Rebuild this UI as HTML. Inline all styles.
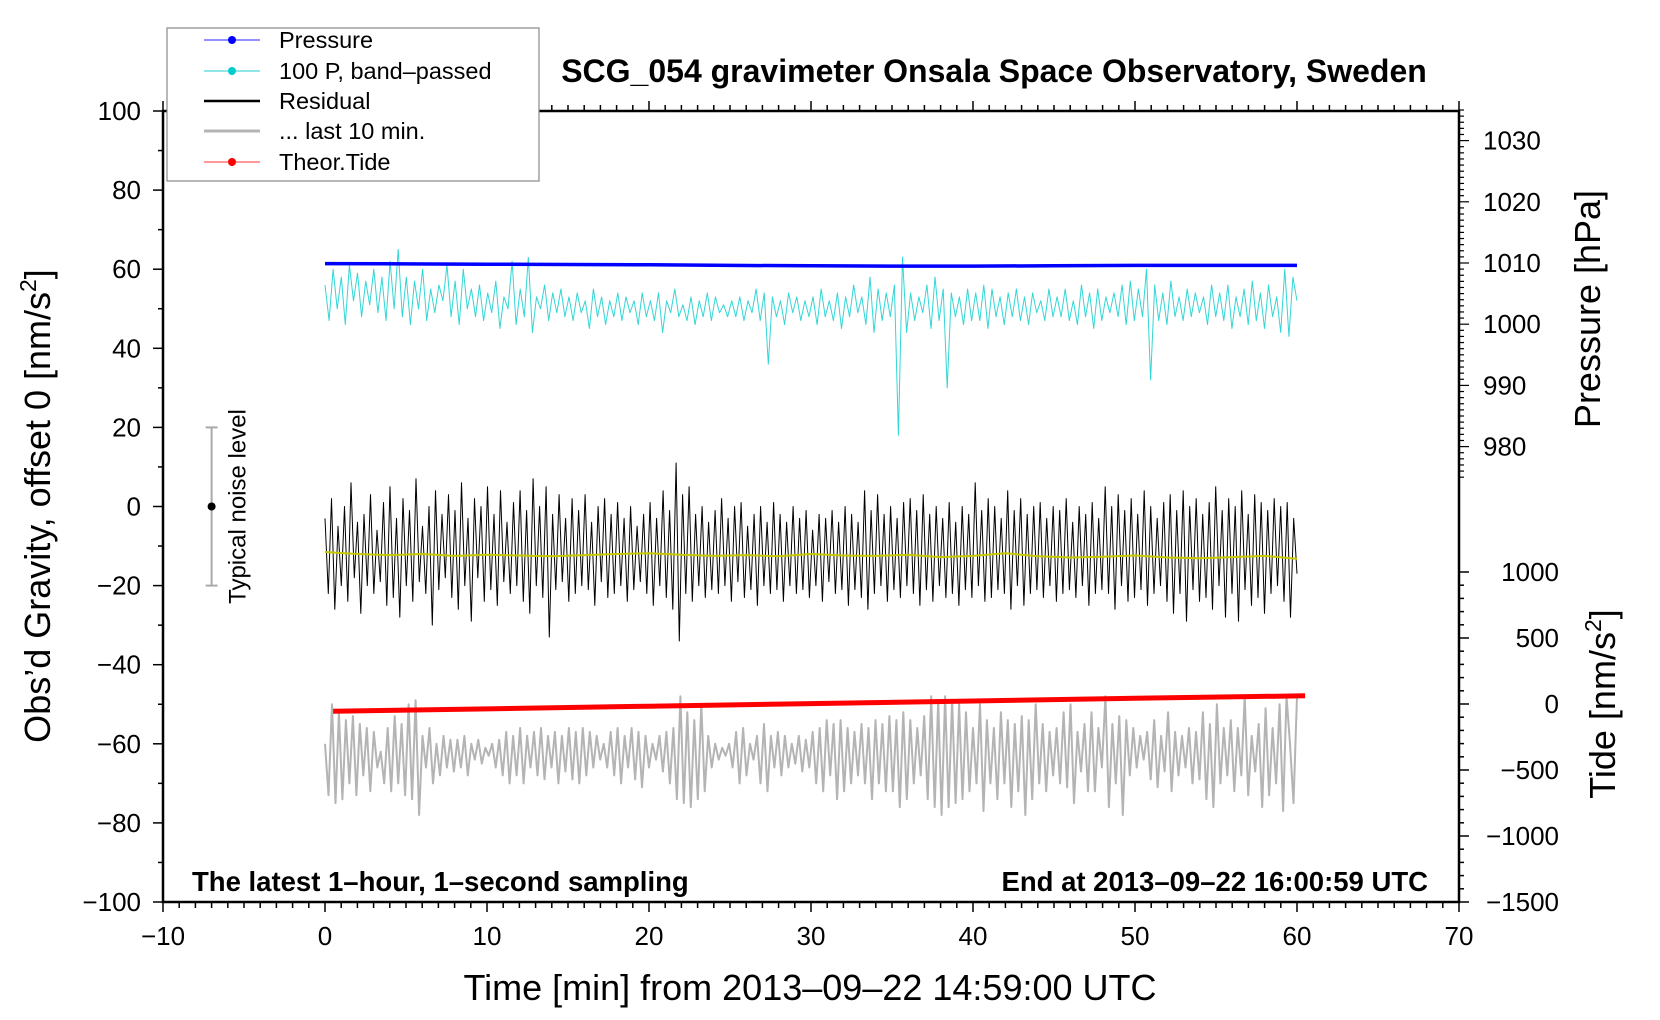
<!DOCTYPE html>
<html><head><meta charset="utf-8">
<style>
html,body{margin:0;padding:0;background:#fff;}
svg{display:block;font-family:"Liberation Sans",Helvetica,Arial,sans-serif;}
</style></head>
<body>
<svg id="chart" width="1660" height="1020" viewBox="0 0 1660 1020">
<g id="marks"></g>
<g id="axes"></g>
<text x="994" y="82" text-anchor="middle" font-size="32" font-weight="bold">SCG_054 gravimeter Onsala Space Observatory, Sweden</text>
<text x="192" y="891" font-size="27.5" font-weight="bold">The latest 1–hour, 1–second sampling</text>
<text x="1428" y="891" text-anchor="end" font-size="27.5" font-weight="bold">End at 2013–09–22 16:00:59 UTC</text>
<text x="810" y="1000" text-anchor="middle" font-size="36">Time [min] from 2013–09–22 14:59:00 UTC</text>
<text transform="translate(50,506) rotate(-90)" text-anchor="middle" font-size="36">Obs’d Gravity, offset 0 [nm/s<tspan dy="-14" font-size="23">2</tspan><tspan dy="14">]</tspan></text>
<text transform="translate(1600,309) rotate(-90)" text-anchor="middle" font-size="36">Pressure [hPa]</text>
<text transform="translate(1615,704) rotate(-90)" text-anchor="middle" font-size="36">Tide [nm/s<tspan dy="-14" font-size="23">2</tspan><tspan dy="14">]</tspan></text>
<g>
<rect x="167" y="28" width="372" height="153" fill="#fff" stroke="#888" stroke-width="1.2"/>
<line x1="204" y1="40" x2="260" y2="40" stroke="#2222ff" stroke-width="1"/><circle cx="232" cy="40" r="4" fill="#0000ff"/>
<text x="279" y="48" font-size="23.5">Pressure</text>
<line x1="204" y1="71" x2="260" y2="71" stroke="#22cccc" stroke-width="1"/><circle cx="232" cy="71" r="4" fill="#00cccc"/>
<text x="279" y="79" font-size="23.5">100 P, band–passed</text>
<line x1="204" y1="101" x2="260" y2="101" stroke="#000" stroke-width="2.5"/>
<text x="279" y="109" font-size="23.5">Residual</text>
<line x1="204" y1="131" x2="260" y2="131" stroke="#b4b4b4" stroke-width="3"/>
<text x="279" y="139" font-size="23.5">... last 10 min.</text>
<line x1="204" y1="162" x2="260" y2="162" stroke="#ff3333" stroke-width="1"/><circle cx="232" cy="162" r="4" fill="#ff0000"/>
<text x="279" y="170" font-size="23.5">Theor.Tide</text>
</g>
</svg>
<script>
const pressTimes=[0,5,10,15,20,25,30,35,40,45,50,55,60];
const pressVals=[1009.9,1009.85,1009.8,1009.75,1009.7,1009.6,1009.55,1009.5,1009.5,1009.55,1009.6,1009.6,1009.6];
const cyanVals=[56,47,60,50,58,46,61,52,59,48,57,51,60,49,58,47,62,50,65,48,
58,46,57,50,60,47,55,49,56,52,61,48,57,46,60,50,55,48,56,47,
54,49,57,45,53,50,62,46,55,48,63,44,53,50,56,47,54,49,55,48,
53,47,54,49,52,45,55,48,53,46,52,48,54,47,53,49,52,46,54,48,
52,47,54,44,52,49,55,48,51,47,53,46,52,48,54,47,53,49,51,48,
52,48,53,47,52,49,55,47,54,36,53,48,52,46,54,49,53,47,52,48,
53,46,55,48,52,47,54,45,53,48,56,49,53,46,58,44,55,47,54,48,
56,18,63,44,54,47,53,49,56,45,58,47,55,30,54,48,53,46,55,47,
54,47,56,45,55,48,53,46,54,48,55,47,53,46,54,49,52,47,55,48,
53,48,55,47,52,46,56,48,54,45,55,47,53,49,54,48,56,46,57,47,
55,48,60,32,56,47,54,46,57,48,53,47,55,48,54,49,53,46,56,48,
54,47,56,45,53,48,55,46,57,47,54,45,56,48,53,44,60,43,58,52];
const residVals=[-3,-22,2,-26,-5,-20,0,-24,6,-18,-4,-27,-2,-20,3,-22,-6,-19,1,-25,
5,-23,-3,-28,2,-20,-1,-24,7,-19,-5,-22,0,-30,4,-21,-2,-18,3,-23,
-1,-26,6,-20,-3,-29,2,-18,0,-24,5,-21,-2,-25,4,-19,-4,-22,1,-20,
4,-24,-1,-27,7,-20,0,-23,5,-33,-2,-21,3,-19,-3,-24,2,-22,-1,-20,
3,-21,-4,-25,0,-19,2,-23,-2,-22,1,-20,-3,-24,0,-21,-5,-19,-2,-22,
1,-25,-3,-20,4,-23,-1,-26,11,-34,3,-22,5,-24,-2,-20,0,-23,-4,-21,
-1,-22,2,-20,-3,-24,0,-19,1,-23,-5,-21,-2,-25,0,-20,-4,-22,1,-21,
-2,-24,-4,-20,0,-22,-3,-21,-1,-23,-6,-20,-2,-24,-3,-19,-1,-22,-4,-21,
0,-25,-2,-21,-4,-23,4,-26,-1,-22,3,-20,-2,-24,0,-21,-3,-23,1,-20,
2,-22,-1,-25,3,-21,-2,-24,0,-20,-3,-23,1,-22,-4,-25,0,-21,-2,-23,
6,-20,-1,-24,2,-23,0,-21,-3,-22,4,-26,-1,-20,2,-25,-2,-22,0,-21,
1,-23,-3,-20,0,-24,-1,-22,2,-21,-4,-23,0,-20,-2,-25,1,-22,-3,-21,
5,-22,0,-26,3,-20,-1,-24,2,-23,-2,-21,4,-25,0,-22,-3,-20,1,-24,
3,-27,-1,-22,4,-29,0,-21,2,-24,-2,-23,1,-26,5,-20,-1,-28,2,-22,
0,-29,4,-21,-2,-25,3,-23,1,-27,-1,-22,2,-20,0,-24,1,-28,-3,-17];
const meanVals=[-11.5,-12,-12.3,-12,-12.5,-12.2,-12.4,-12.6,-12.3,-12,-11.8,-12.2,-12.5,-12.3,-12.6,-12,-12.4,-12.5,-12.2,-12.8,-12.5,-11.8,-12.6,-12.9,-12.7,-12.4,-12.9,-13.1,-12.8,-12.5,-13.2];
const grayVals=[-60,-73,-50,-75,-52,-74,-54,-70,-53,-73,-55,-68,-56,-72,-57,-66,-62,-70,-56,-72,
-53,-70,-55,-73,-50,-74,-49,-78,-58,-66,-56,-70,-60,-68,-58,-66,-59,-67,-59,-66,
-58,-68,-60,-64,-59,-65,-61,-63,-60,-66,-59,-68,-57,-70,-58,-68,-56,-70,-58,-66,
-57,-68,-56,-69,-58,-66,-57,-70,-58,-67,-56,-69,-57,-70,-56,-68,-57,-66,-58,-64,
-60,-66,-57,-68,-56,-70,-58,-66,-56,-69,-57,-71,-58,-66,-60,-64,-58,-67,-57,-70,
-56,-74,-48,-75,-52,-76,-54,-74,-50,-72,-58,-66,-60,-64,-61,-63,-60,-66,-57,-70,
-56,-68,-60,-64,-58,-70,-55,-72,-58,-66,-57,-68,-58,-66,-60,-65,-58,-67,-59,-66,
-57,-70,-56,-72,-54,-68,-55,-74,-54,-72,-56,-70,-57,-68,-55,-70,-56,-74,-54,-70,
-55,-72,-53,-72,-54,-76,-52,-74,-54,-70,-56,-68,-53,-74,-48,-76,-49,-78,-48,-76,
-49,-75,-50,-74,-52,-72,-56,-70,-50,-77,-54,-70,-56,-74,-52,-70,-54,-76,-55,-72,
-53,-78,-54,-74,-50,-70,-55,-72,-57,-68,-56,-70,-52,-71,-50,-75,-57,-67,-55,-72,
-52,-72,-56,-66,-48,-76,-55,-70,-53,-78,-54,-68,-56,-66,-58,-64,-57,-69,-54,-71,
-58,-67,-52,-72,-57,-68,-58,-66,-56,-70,-57,-69,-52,-74,-55,-76,-50,-70,-56,-68,
-54,-72,-56,-68,-48,-73,-58,-67,-55,-76,-51,-73,-56,-70,-50,-77,-48,-60,-75,-48];
const tideTimes=[0.5,10,20,30,40,50,60.5];
const tideVals=[-55,-37,-17,3,23,43,62];
const xTicks=[-10,0,10,20,30,40,50,60,70];
const yTicks=[100,80,60,40,20,0,-20,-40,-60,-80,-100];
const pTicks=[1030,1020,1010,1000,990,980];
const tTicks=[1000,500,0,-500,-1000,-1500];

const NS="http://www.w3.org/2000/svg";
const X0=163,X1=1459,Y0=111,Y1=902;
const sx=t=>X0+(t+10)*(X1-X0)/80;
const sy=v=>Y0+(100-v)*(Y1-Y0)/200;
const sp=p=>263+(1010-p)*6.12;
const st=v=>704-v*0.132;
const marks=document.getElementById('marks');
const axes=document.getElementById('axes');
function mk(tag,attrs,parent){const e=document.createElementNS(NS,tag);for(const k in attrs)e.setAttribute(k,attrs[k]);parent.appendChild(e);return e;}
function poly(ts,vs,scaleY,color,w,name){
  const pts=vs.map((v,i)=>sx(ts(i)).toFixed(1)+','+scaleY(v).toFixed(1)).join(' ');
  const e=mk('polyline',{points:pts,fill:'none',stroke:color,'stroke-width':w,'stroke-linejoin':'round'},marks);
  
  
}
poly(i=>i*60/(grayVals.length-1),grayVals,sy,'#b4b4b4',2,'last-10-min-series');
poly(i=>tideTimes[i],tideVals,st,'#ff0000',5,'theor-tide-series');
poly(i=>i*60/(cyanVals.length-1),cyanVals,sy,'#33d6d6',1,'band-passed-pressure-series');
poly(i=>i*60/(residVals.length-1),residVals,sy,'#000',1,'residual-series');
poly(i=>i*60/(meanVals.length-1),meanVals,sy,'#c8c800',2,'residual-mean-series');
poly(i=>pressTimes[i],pressVals,sp,'#0000ff',3.5,'pressure-series');

const nb=mk('g',{},marks);


mk('line',{x1:sx(-7),x2:sx(-7),y1:sy(20),y2:sy(-20),stroke:'#aaa','stroke-width':2},nb);
mk('line',{x1:sx(-7)-6,x2:sx(-7)+6,y1:sy(20),y2:sy(20),stroke:'#aaa','stroke-width':2},nb);
mk('line',{x1:sx(-7)-6,x2:sx(-7)+6,y1:sy(-20),y2:sy(-20),stroke:'#aaa','stroke-width':2},nb);
mk('circle',{cx:sx(-7),cy:sy(0),r:4,fill:'#000'},nb);
const nt=mk('text',{transform:`translate(${sx(-7)+34},${sy(0)}) rotate(-90)`,'text-anchor':'middle','font-size':24},nb);
nt.textContent='Typical noise level';



const fr=mk('rect',{x:X0,y:Y0,width:X1-X0,height:Y1-Y0,fill:'none',stroke:'#000','stroke-width':2.5},axes);


for(let t=-10;t<=70;t++){
  const maj=t%10===0, L=maj?10:6;
  mk('line',{x1:sx(t),x2:sx(t),y1:Y1,y2:Y1+L,stroke:'#000','stroke-width':1.5},axes);
  mk('line',{x1:sx(t),x2:sx(t),y1:Y0,y2:Y0-L,stroke:'#000','stroke-width':1.5},axes);
}
xTicks.forEach(t=>{
  const e=mk('text',{x:sx(t),y:945,'text-anchor':'middle','font-size':26},axes);
  e.textContent=String(t).replace('-','\u2212');
  
  
});
for(let v=-100;v<=100;v+=10){
  const L=v%20===0?10:5;
  mk('line',{x1:X0-L,x2:X0,y1:sy(v),y2:sy(v),stroke:'#000','stroke-width':1.5},axes);
}
yTicks.forEach(v=>{
  const e=mk('text',{x:141,y:sy(v)+9,'text-anchor':'end','font-size':26},axes);
  e.textContent=String(v).replace('-','\u2212');
  
  
});
for(let p=975;p<=1035;p++){
  const L=p%10===0?10:5;
  mk('line',{x1:X1,x2:X1+L,y1:sp(p),y2:sp(p),stroke:'#000','stroke-width':1.2},axes);
}
pTicks.forEach(p=>{
  const e=mk('text',{x:1483,y:sp(p)+9,'font-size':26},axes);
  e.textContent=p;
  
  
});
for(let v=-1500;v<=1000;v+=100){
  const L=v%500===0?10:5;
  mk('line',{x1:X1,x2:X1+L,y1:st(v),y2:st(v),stroke:'#000','stroke-width':1.5},axes);
}
tTicks.forEach(v=>{
  const e=mk('text',{x:1559,y:st(v)+9,'text-anchor':'end','font-size':26},axes);
  e.textContent=String(v).replace('-','\u2212');
  
  
});
</script>
</body></html>
